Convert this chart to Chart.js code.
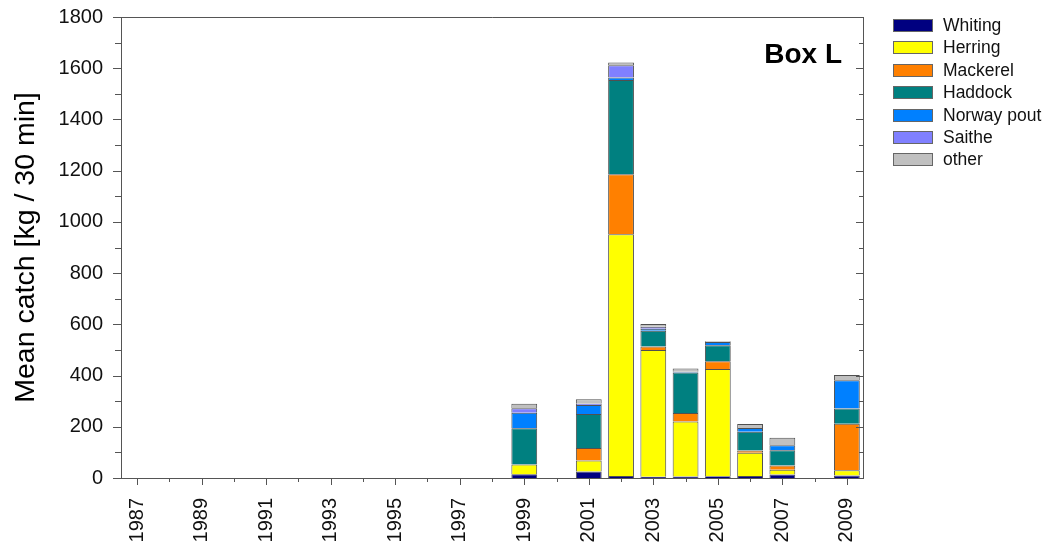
<!DOCTYPE html>
<html>
<head>
<meta charset="utf-8">
<script src="https://cdn.jsdelivr.net/npm/chart.js@4/dist/chart.umd.min.js"></script>
<style>
  html, body { margin: 0; padding: 0; background: #fff; }
  #wrap { position: relative; width: 1048px; height: 550px; }
  #legend { position: absolute; left: 893px; top: 18px; font: 17.5px Arial, "Liberation Sans", sans-serif; color: #111; }
  #legend div { height: 22.4px; line-height: 15px; white-space: nowrap; }
  #legend span { display: inline-block; width: 38px; height: 11px; border: 1px solid #666; vertical-align: top; margin: 1px 10px 0 0; }
</style>
</head>
<body>
<div id="wrap">
  <canvas id="chart" width="1048" height="550"></canvas>
  <div id="legend"></div>
</div>
<script>
// years 1987..2009
const years = ['1987','1988','1989','1990','1991','1992','1993','1994','1995','1996','1997','1998',
               '1999','2000','2001','2002','2003','2004','2005','2006','2007','2008','2009'];
//                 87 88 89 90 91 92 93 94 95 96 97 98  99 00  01   02   03   04   05  06  07 08   09
const whiting   = [0, 0, 0, 0, 0, 0, 0, 0, 0, 0, 0, 0, 15, 0, 25,   8,   5,   6,   7,  8, 14, 0,  10];
const herring   = [0, 0, 0, 0, 0, 0, 0, 0, 0, 0, 0, 0, 38, 0, 43, 944, 495, 215, 419, 91, 18, 0,  20];
const mackerel  = [0, 0, 0, 0, 0, 0, 0, 0, 0, 0, 0, 0,  0, 0, 49, 234,  13,  33,  30,  8, 17, 0, 182];
const haddock   = [0, 0, 0, 0, 0, 0, 0, 0, 0, 0, 0, 0,141, 0,133, 368,  62, 158,  62, 74, 59, 0,  59];
const norwayPout= [0, 0, 0, 0, 0, 0, 0, 0, 0, 0, 0, 0, 61, 0, 35,  10,   8,   3,  13, 14, 20, 0, 111];
const saithe    = [0, 0, 0, 0, 0, 0, 0, 0, 0, 0, 0, 0, 17, 0,  5,  48,   8,   0,   0,  0,  0, 0,   0];
const other     = [0, 0, 0, 0, 0, 0, 0, 0, 0, 0, 0, 0, 18, 0, 17,  10,  10,  13,   3, 16, 29, 0,  20];

const series = [
  { label: 'Whiting',     data: whiting,    color: '#000080' },
  { label: 'Herring',     data: herring,    color: '#ffff00' },
  { label: 'Mackerel',    data: mackerel,   color: '#ff8000' },
  { label: 'Haddock',     data: haddock,    color: '#008080' },
  { label: 'Norway pout', data: norwayPout, color: '#0080ff' },
  { label: 'Saithe',      data: saithe,     color: '#8080ff' },
  { label: 'other',       data: other,      color: '#c0c0c0' }
];

const FONT = 'Arial, "Liberation Sans", sans-serif';
const AXIS = '#555';

// html legend
document.getElementById('legend').innerHTML = series
  .map(s => `<div><span style="background:${s.color}"></span>${s.label}</div>`).join('');

// frame, tick marks and the "Box L" label
const framePlugin = {
  id: 'frame',
  afterDraw(chart) {
    const c = chart.ctx, a = chart.chartArea;
    const y = chart.scales.y, x = chart.scales.x;
    c.save();
    c.strokeStyle = AXIS;
    c.lineWidth = 1;
    c.beginPath();
    c.moveTo(a.left, a.top + 0.5); c.lineTo(a.right + 0.5, a.top + 0.5);
    c.moveTo(a.right + 0.5, a.top); c.lineTo(a.right + 0.5, a.bottom);
    for (let v = 0; v <= 1800; v += 100) {
      const py = Math.round(y.getPixelForValue(v)) + 0.5;
      const major = v % 200 === 0;
      c.moveTo(a.left - (major ? 8 : 6), py); c.lineTo(a.left, py);
      c.moveTo(a.right, py); c.lineTo(a.right - (major ? 7 : 4), py);
    }
    years.forEach((yr, i) => {
      const px = Math.round(x.getPixelForTick(i)) + 0.5;
      c.moveTo(px, a.bottom); c.lineTo(px, a.bottom + (i % 2 === 0 ? 7 : 4));
    });
    c.stroke();
    c.fillStyle = '#000';
    c.font = 'bold 28px ' + FONT;
    c.textAlign = 'right';
    c.textBaseline = 'alphabetic';
    c.fillText('Box L', a.right - 21, a.top + 46);
    c.restore();
  }
};

new Chart(document.getElementById('chart'), {
  type: 'bar',
  data: {
    labels: years,
    datasets: series.map(s => ({
      label: s.label,
      data: s.data,
      backgroundColor: s.color,
      borderColor: '#505050',
      borderWidth: c => (c.raw > 0 ? 1 : 0),
      borderSkipped: 'start',
      barPercentage: 0.8,
      categoryPercentage: 1.0
    }))
  },
  options: {
    responsive: false,
    animation: false,
    layout: { padding: { top: 17, right: 185, left: 0, bottom: 0 } },
    plugins: { legend: { display: false }, tooltip: { enabled: false } },
    scales: {
      x: {
        stacked: true,
        grid: { display: false, drawTicks: false },
        border: { display: true, color: AXIS, width: 1 },
        ticks: {
          autoSkip: false, maxRotation: 90, minRotation: 90, padding: 20,
          color: '#111', font: { family: FONT, size: 20 },
          callback: (v, i) => (i % 2 === 0 ? years[i] : '')
        },
        afterFit: s => { s.height = 72; }
      },
      y: {
        stacked: true,
        min: 0, max: 1800,
        grid: { display: false, drawTicks: false },
        border: { display: true, color: AXIS, width: 1 },
        ticks: {
          stepSize: 100, padding: 18, autoSkip: false,
          color: '#111', font: { family: FONT, size: 20 },
          callback: v => (v % 200 === 0 ? v : '')
        },
        title: {
          display: true, text: 'Mean catch [kg / 30 min]',
          color: '#000', font: { family: FONT, size: 28.5 }, padding: { top: 9, bottom: 0 }
        },
        afterFit: s => { s.width = 121; s.paddingTop = 0; s.paddingBottom = 0; }
      }
    }
  },
  plugins: [framePlugin]
});
</script>
</body>
</html>
